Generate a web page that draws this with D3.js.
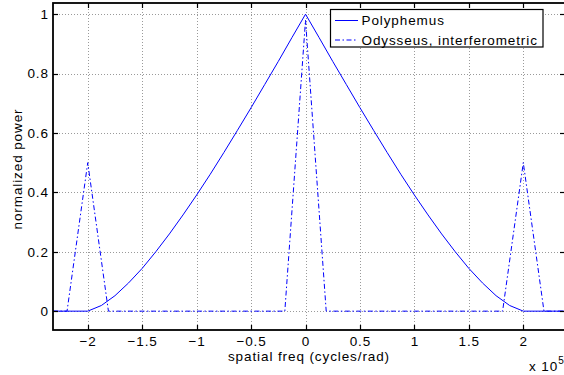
<!DOCTYPE html>
<html><head><meta charset="utf-8">
<script src="https://cdn.jsdelivr.net/npm/d3@7"></script>
<style>body{margin:0;background:#fff}svg{display:block}text{font-family:"Liberation Sans",Arial,sans-serif}</style>
</head><body><svg id="c" width="564" height="375"></svg>
<script>
// data (x in units of 1e5 cycles/rad)
const polyX = [-2.32,-2,-1.875,-1.75,-1.625,-1.5,-1.375,-1.25,-1.125,-1,-0.875,-0.75,-0.625,-0.5,-0.375,-0.25,-0.125,0,
  0.125,0.25,0.375,0.5,0.625,0.75,0.875,1,1.125,1.25,1.375,1.5,1.625,1.75,1.875,2,2.38];
const polyY = [0,0,0.019,0.052,0.095,0.144,0.200,0.260,0.324,0.391,0.461,0.534,0.609,0.685,0.763,0.841,0.921,1,
  0.921,0.841,0.763,0.685,0.609,0.534,0.461,0.391,0.324,0.260,0.200,0.144,0.095,0.052,0.019,0,0];
const odyX = [-2.32,-2.19,-2,-1.81,-0.19,0,0.19,1.81,2,2.19,2.38];
const odyY = [0,0,0.5,0,0,0.98,0,0,0.5,0,0];
const xTicks = [-2,-1.5,-1,-0.5,0,0.5,1,1.5,2];
const xTickLabels = ["\u22122","\u22121.5","\u22121","\u22120.5","0","0.5","1","1.5","2"];
const yTicks = [0,0.2,0.4,0.6,0.8,1];
const yTickLabels = ["0","0.2","0.4","0.6","0.8","1"];
const seriesNames = ["Polyphemus","Odysseus, interferometric"];

const L=53, R=565, T=3, B=330;
const FS = 13.5, LS = 0.9;
const svg = d3.select("#c");
const x = d3.scaleLinear().domain([-2.319,2.383]).range([L,R]);
const y = d3.scaleLinear().domain([-0.0635,1.0377]).range([B,T]);
const blue = "#0000ff";

svg.append("defs").append("clipPath").attr("id","clip").append("rect")
  .attr("x",L).attr("y",T).attr("width",R-L).attr("height",B-T);

// grid
const g = svg.append("g");
g.selectAll(".gx").data(xTicks).join("line")
  .attr("x1",d=>Math.round(x(d))+0.5).attr("x2",d=>Math.round(x(d))+0.5).attr("y1",T).attr("y2",B)
  .attr("stroke","#9a9a9a").attr("stroke-width",1).attr("stroke-dasharray","1,2");
g.selectAll(".gy").data(yTicks).join("line")
  .attr("y1",d=>Math.round(y(d))+0.5).attr("y2",d=>Math.round(y(d))+0.5).attr("x1",L).attr("x2",R)
  .attr("stroke","#9a9a9a").attr("stroke-width",1).attr("stroke-dasharray","1,2");

const line = d3.line().x(d=>x(d[0])).y(d=>y(d[1]));
const plot = svg.append("g").attr("clip-path","url(#clip)");
plot.append("path").datum(odyX.map((v,i)=>[v,odyY[i]]))
  .attr("d",line).attr("fill","none").attr("stroke",blue).attr("stroke-width",1)
  .attr("stroke-dasharray","5,2.5,1.5,2.5");
plot.append("path").datum(polyX.map((v,i)=>[v,polyY[i]]))
  .attr("d",line).attr("fill","none").attr("stroke",blue).attr("stroke-width",1);

// axes box
const ax = svg.append("g").attr("stroke","#000").attr("stroke-width",1.8).attr("fill","none");
ax.append("rect").attr("x",L).attr("y",T).attr("width",R-L).attr("height",B-T);
const tk = 5;
xTicks.forEach(d=>{
  const px = Math.round(x(d))+0.5;
  ax.append("line").attr("x1",px).attr("x2",px).attr("y1",B).attr("y2",B-tk).attr("stroke-width",1.2);
  ax.append("line").attr("x1",px).attr("x2",px).attr("y1",T).attr("y2",T+tk).attr("stroke-width",1.2);
});
yTicks.forEach(d=>{
  const py = Math.round(y(d))+0.5;
  ax.append("line").attr("y1",py).attr("y2",py).attr("x1",L).attr("x2",L+tk).attr("stroke-width",1.2);
  ax.append("line").attr("y1",py).attr("y2",py).attr("x1",R).attr("x2",R-tk).attr("stroke-width",1.2);
});

// tick labels
svg.selectAll(".xl").data(xTicks).join("text")
  .attr("x",d=>x(d)+LS/2).attr("y",345.5).attr("text-anchor","middle").attr("font-size",FS)
  .attr("letter-spacing",LS).text((d,i)=>xTickLabels[i]);
svg.selectAll(".yl").data(yTicks).join("text")
  .attr("x",48+LS).attr("y",d=>y(d)+4.8).attr("text-anchor","end").attr("font-size",FS)
  .attr("letter-spacing",LS).text((d,i)=>yTickLabels[i]);

svg.append("text").attr("x",309).attr("y",361).attr("text-anchor","middle").attr("font-size",FS)
  .attr("letter-spacing",LS).text("spatial freq (cycles/rad)");
svg.append("text").attr("transform","translate(22,169) rotate(-90)").attr("text-anchor","middle").attr("font-size",FS)
  .attr("letter-spacing",LS).text("normalized power");
const ex = svg.append("text").attr("x",529).attr("y",371).attr("font-size",FS).attr("letter-spacing",LS);
ex.append("tspan").text("x 10");
ex.append("tspan").attr("dy",-7).attr("font-size",10).text("5");

// legend
const lg = svg.append("g");
lg.append("rect").attr("x",330.5).attr("y",9.5).attr("width",212.5).attr("height",37.5)
  .attr("fill","#fff").attr("stroke","#000").attr("stroke-width",1.2);
const rows = [20.5,40];
rows.forEach((ry,i)=>{
  lg.append("line").attr("x1",335).attr("x2",358).attr("y1",ry).attr("y2",ry)
    .attr("stroke",blue).attr("stroke-width",1)
    .attr("stroke-dasharray", i===1 ? "5,2.5,1.5,2.5" : null);
  lg.append("text").attr("x",361.5).attr("y",ry+4.8).attr("font-size",FS)
    .attr("letter-spacing",LS).text(seriesNames[i]);
});
</script></body></html>
